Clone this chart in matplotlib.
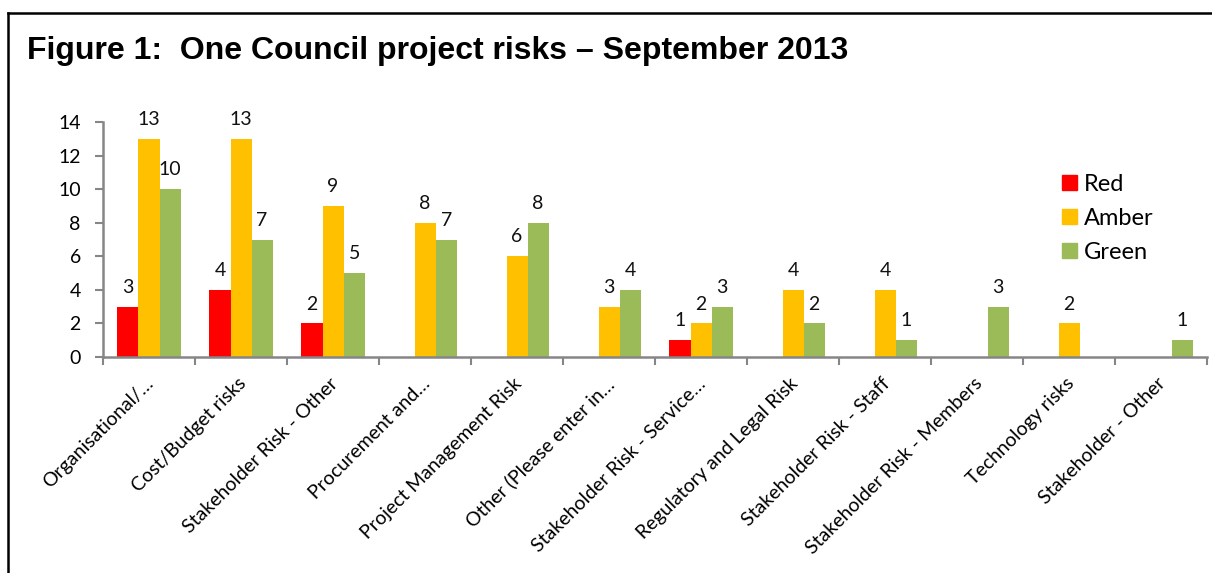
import numpy as np
import matplotlib
matplotlib.use("Agg")
import matplotlib.pyplot as plt
from matplotlib.lines import Line2D
from matplotlib.patches import Patch
import matplotlib.transforms as mtransforms

# data
categories = ['Organisational/…', 'Cost/Budget risks', 'Stakeholder Risk - Other',
              'Procurement and…', 'Project Management Risk', 'Other (Please enter in…',
              'Stakeholder Risk - Service…', 'Regulatory and Legal Risk',
              'Stakeholder Risk - Staff', 'Stakeholder Risk - Members',
              'Technology risks', 'Stakeholder - Other']
red = [3, 4, 2, 0, 0, 0, 1, 0, 0, 0, 0, 0]
amber = [13, 13, 9, 8, 6, 3, 2, 4, 4, 0, 2, 0]
green = [10, 7, 5, 7, 8, 4, 3, 2, 1, 3, 0, 1]
series = [('Red', red, '#FF0000'), ('Amber', amber, '#FFC000'), ('Green', green, '#9BBB59')]

label_font = ['Lato', 'DejaVu Sans']

fig = plt.figure(figsize=(12.12, 5.73), dpi=100)
ax = fig.add_axes([0.085, 0.377, 0.911, 0.41])

x = np.arange(len(categories))
w = 0.229
for i, (name, vals, col) in enumerate(series):
	xs = x + (i - 1) * w
	ax.bar(xs, vals, width=w, color=col, label=name)
	for xx, v in zip(xs, vals):
		if v > 0:
			ax.text(xx, v + 0.65, str(v), ha='center', va='bottom', fontsize=14,
				family=label_font, color='#111111')

ax.set_xlim(-0.5, len(categories) - 0.5)
ax.set_ylim(0, 14)
ax.set_yticks(np.arange(0, 15, 2))
ax.tick_params(axis='y', labelsize=14, length=6, color='#868686', width=1.5, pad=10)
ax.set_yticklabels([str(t) for t in range(0, 15, 2)], family=label_font)

ax.set_xticks(np.arange(-0.5, len(categories), 1.0))
ax.set_xticklabels([])
ax.tick_params(axis='x', length=6, color='#868686', width=1.5, direction='out')

for s in ['top', 'right']:
	ax.spines[s].set_visible(False)
for s in ['left', 'bottom']:
	ax.spines[s].set_color('#868686')
	ax.spines[s].set_linewidth(1.8)

# rotated category labels
offset = mtransforms.ScaledTranslation(-4 / 100, -18 / 100, fig.dpi_scale_trans)
for xx, lab in zip(x, categories):
	ax.text(xx, 0, lab, rotation=45, ha='right', va='top', rotation_mode='anchor',
		fontsize=14, family=label_font,
		transform=ax.get_xaxis_transform() + offset)

handles = [Patch(color=c, label=n) for n, _, c in series]
ax.legend(handles=handles, loc='upper left', bbox_to_anchor=(0.849, 0.87),
	frameon=False, prop={'family': label_font, 'size': 17},
	handlelength=0.65, handleheight=0.65, handletextpad=0.3, labelspacing=0.55)

fig.text(27 / 1212, 1 - 59 / 573, 'Figure 1:  One Council project risks \u2013 September 2013',
	fontsize=23, fontweight='bold', family=['Liberation Sans', 'DejaVu Sans'])

# outer frame
fig.add_artist(Line2D([8 / 1212, 8 / 1212], [0, 1 - 13 / 573], transform=fig.transFigure,
	color='black', linewidth=1.8))
fig.add_artist(Line2D([8 / 1212, 1], [1 - 13 / 573, 1 - 13 / 573], transform=fig.transFigure,
	color='black', linewidth=1.8))

fig.savefig('out.png', dpi=100)
